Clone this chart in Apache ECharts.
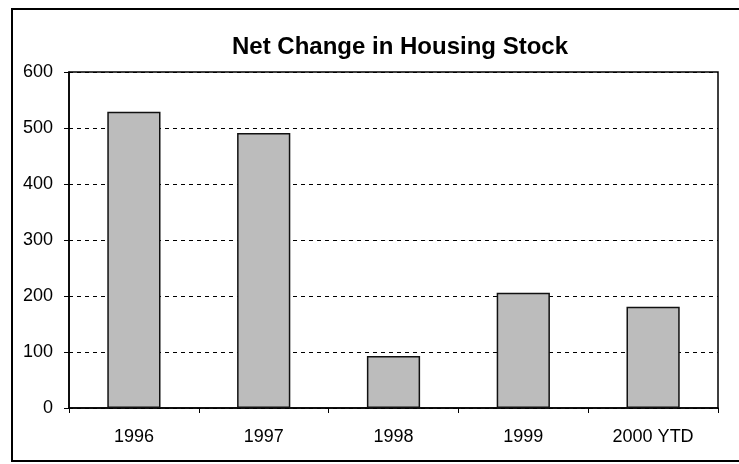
<!DOCTYPE html>
<html>
<head>
<meta charset="utf-8">
<script src="https://cdn.jsdelivr.net/npm/echarts@6/dist/echarts.min.js"></script>
<style>
html, body { margin: 0; padding: 0; background: #fff; }
#chart { width: 739px; height: 464px; }
</style>
</head>
<body>
<div id="chart"></div>
<script>
var years = ['1996', '1997', '1998', '1999', '2000 YTD'];
var netChange = [529, 491, 93, 206, 181];
var yTicks = [0, 100, 200, 300, 400, 500, 600];

var chart = echarts.init(document.getElementById('chart'));

var option = {
	backgroundColor: '#fff',
	animation: false,
	title: {
		text: 'Net Change in Housing Stock',
		left: 395,
		top: 30,
		textAlign: 'center',
		textStyle: {
			fontFamily: 'Liberation Sans, Arial, sans-serif',
			fontSize: 24,
			fontWeight: 'bold',
			color: '#000'
		}
	},
	graphic: [{
		type: 'rect',
		shape: { x: 12, y: 9, width: 740, height: 452 },
		style: { fill: 'none', stroke: '#000', lineWidth: 2 }
	}],
	grid: {
		left: 69,
		right: 21,
		top: 72,
		bottom: 56,
		show: true,
		borderColor: '#000',
		borderWidth: 1.5
	},
	xAxis: {
		type: 'category',
		data: years,
		axisLine: { lineStyle: { color: '#000', width: 1.5 } },
		axisTick: { show: true, alignWithLabel: false, length: 5, lineStyle: { color: '#000' } },
		axisLabel: {
			color: '#000',
			fontSize: 18,
			fontFamily: 'Liberation Sans, Arial, sans-serif',
			margin: 20
		}
	},
	yAxis: {
		type: 'value',
		min: yTicks[0],
		max: yTicks[yTicks.length - 1],
		interval: 100,
		axisLine: { show: true, lineStyle: { color: '#000', width: 1.5 } },
		axisTick: { show: true, length: 5, lineStyle: { color: '#000' } },
		axisLabel: {
			color: '#000',
			fontSize: 18,
			fontFamily: 'Liberation Sans, Arial, sans-serif',
			margin: 16
		},
		splitLine: {
			show: true,
			lineStyle: { color: '#000', type: [4, 4], width: 1 }
		}
	},
	series: [{
		type: 'bar',
		data: netChange,
		barWidth: '41%',
		itemStyle: {
			color: '#bcbcbc',
			borderColor: '#111',
			borderWidth: 1.5
		}
	}]
};

chart.setOption(option);
</script>
</body>
</html>
